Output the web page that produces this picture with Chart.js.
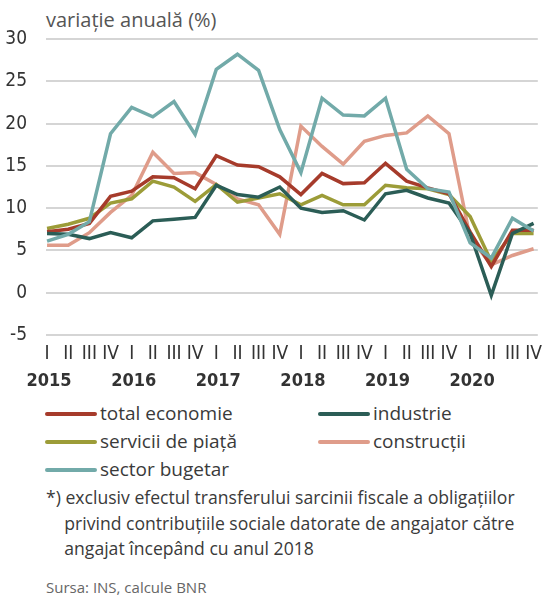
<!DOCTYPE html>
<html>
<head>
<meta charset="utf-8">
<script src="https://cdn.jsdelivr.net/npm/chart.js@4.4.0/dist/chart.umd.min.js"></script>
<style>
body { margin: 0; background: #fff; }
#wrap { position: relative; width: 550px; height: 599px; font-family: "Open Sans", sans-serif; color: #3a3a3a; overflow: hidden; }
#box { position: absolute; left: 0; top: 0; width: 550px; height: 395px; }
.t { position: absolute; white-space: nowrap; }
#title { left: 46px; top: 6px; font-size: 20px; color: #555; }
.leg { position: absolute; white-space: nowrap; font-size: 19px; line-height: 24px; }
.leg i { display: inline-block; width: 52px; height: 4px; border-radius: 2px; vertical-align: middle; margin-right: 3px; position: relative; top: -1px; }
#note { left: 46px; top: 485px; font-size: 17.6px; line-height: 25.5px; color: #3a3a3a; }
#src { left: 46px; top: 577px; font-size: 15px; color: #666; }
</style>
</head>
<body>
<div id="wrap">
  <div class="t" id="title">variație anuală (%)</div>
  <div id="box"><canvas id="chart_salarii"></canvas></div>
  <div id="legend"></div>
  <div class="t" id="note">*) exclusiv efectul transferului sarcinii fiscale a obligațiilor<br>&nbsp;&nbsp;&nbsp;&nbsp;privind contribuțiile sociale datorate de angajator către<br>&nbsp;&nbsp;&nbsp;&nbsp;angajat începând cu anul 2018</div>
  <div class="t" id="src">Sursa: INS, calcule BNR</div>
</div>
<script>
var quarters = ['I','II','III','IV','I','II','III','IV','I','II','III','IV',
                'I','II','III','IV','I','II','III','IV','I','II','III','IV'];
var years = ['2015','2016','2017','2018','2019','2020'];

var totalEconomie = [7.2,7.5,8.2,11.4,12.0,13.7,13.6,12.3,16.2,15.1,14.9,13.7,
                     11.6,14.1,12.9,13.0,15.3,13.2,12.4,11.7,7.2,3.1,7.4,7.4];
var industrie = [7.0,6.9,6.4,7.1,6.5,8.5,8.7,8.9,12.7,11.6,11.3,12.5,
                 10.0,9.5,9.7,8.6,11.7,12.1,11.2,10.6,7.0,-0.3,7.0,8.2];
var serviciiPiata = [7.6,8.1,8.8,10.6,11.1,13.2,12.5,10.8,12.8,10.7,11.2,11.7,
                     10.4,11.5,10.4,10.4,12.7,12.4,12.3,11.6,9.0,3.7,7.0,7.0];
var constructii = [5.6,5.6,7.1,9.5,11.5,16.6,14.1,14.2,12.8,11.1,10.4,6.9,
                   19.7,17.3,15.2,17.9,18.6,18.9,20.9,18.8,6.5,3.3,4.4,5.2];
var sectorBugetar = [6.1,6.9,8.4,18.8,21.9,20.8,22.6,18.7,26.4,28.2,26.3,19.3,
                     14.2,23.0,21.0,20.9,23.0,14.6,12.3,11.9,5.9,4.1,8.8,7.3];

var seriesNames = ['total economie','industrie','servicii de piață','construcții','sector bugetar'];
var seriesData = [totalEconomie, industrie, serviciiPiata, constructii, sectorBugetar];
var color = ['#a63b2b','#2b5d56','#9c9c38','#df9c8a','#72aaa9'];
var drawOrder = [3,2,4,5,1];

var narrow = '"Liberation Sans Narrow", "DejaVu Sans Condensed", sans-serif';

function points(arr) {
    return arr.map(function (v, i) { return { x: i, y: v }; });
}

// legend built from the series
var legPos = [[45,401],[318,401],[45,429],[318,429],[45,457]];
var legHtml = '';
for (var k = 0; k < seriesNames.length; k++) {
    legHtml += '<div class="leg" style="left:' + legPos[k][0] + 'px;top:' + legPos[k][1] + 'px">' +
        '<i style="background:' + color[k] + '"></i>' + seriesNames[k] + '</div>';
}
document.getElementById('legend').innerHTML = legHtml;

var yearLabels = {
    id: 'yearLabels',
    afterDraw: function (chart) {
        var ctx = chart.ctx, xs = chart.scales.x;
        ctx.save();
        ctx.font = 'bold 18px ' + narrow;
        ctx.fillStyle = '#333';
        ctx.textAlign = 'center';
        ctx.textBaseline = 'middle';
        for (var j = 0; j < years.length; j++) {
            ctx.fillText(years[j], xs.getPixelForValue(j * 4) + 2, 381);
        }
        ctx.restore();
    }
};

var datasets = [];
for (var d = 0; d < seriesNames.length; d++) {
    datasets.push({
        label: seriesNames[d],
        data: points(seriesData[d]),
        borderColor: color[d],
        backgroundColor: color[d],
        borderWidth: 3.5,
        pointRadius: 0,
        tension: 0,
        order: drawOrder[d]
    });
}

var ctx1 = document.getElementById('chart_salarii').getContext('2d');
var lineChart = new Chart(ctx1, {
    type: 'line',
    data: { datasets: datasets },
    plugins: [yearLabels],
    options: {
        responsive: true,
        maintainAspectRatio: false,
        animation: false,
        layout: { padding: { top: 39, right: 6, left: 0, bottom: 0 } },
        plugins: {
            legend: { display: false },
            tooltip: { enabled: false }
        },
        scales: {
            x: {
                type: 'linear',
                min: -0.05,
                max: 23.2,
                grid: { display: false, drawTicks: false },
                border: { display: false },
                afterFit: function (s) { s.height = 60; },
                ticks: {
                    stepSize: 1,
                    includeBounds: false,
                    autoSkip: false,
                    maxRotation: 0,
                    padding: 8,
                    color: '#333',
                    font: { family: narrow, size: 19 },
                    callback: function (v) {
                        return Number.isInteger(v) ? quarters[v] : '';
                    }
                }
            },
            y: {
                min: -5,
                max: 30,
                grid: { color: '#d5d5d5', lineWidth: 2, drawTicks: false },
                border: { display: false },
                afterFit: function (s) { s.width = 46; },
                ticks: {
                    stepSize: 5,
                    padding: 19,
                    color: '#333',
                    font: { family: narrow, size: 19 }
                }
            }
        }
    }
});
</script>
</body>
</html>
